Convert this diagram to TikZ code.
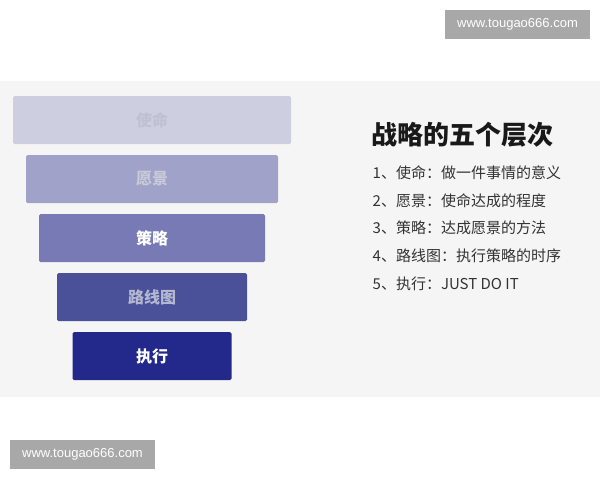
\documentclass[tikz,border=0pt]{standalone}
\usepackage{fontspec}
\usepackage{xcolor}
\usetikzlibrary{positioning}
\setmainfont{Liberation Sans}
\newfontfamily\cjk{Noto Sans CJK SC}

\definecolor{panel}{HTML}{F5F5F5}
\definecolor{wmgray}{HTML}{A8A8A8}
\definecolor{lvA}{HTML}{CDCFE0}
\definecolor{lvB}{HTML}{A0A2C9}
\definecolor{lvC}{HTML}{777AB4}
\definecolor{lvD}{HTML}{4A5199}
\definecolor{lvE}{HTML}{23298A}
\definecolor{txtA}{HTML}{BFC1D2}
\definecolor{txtB}{HTML}{C8CAD8}
\definecolor{txtD}{HTML}{B4B7D2}
\definecolor{ink}{HTML}{333333}

\begin{document}
\begin{tikzpicture}[x=1pt, y=-1pt, node distance={59pt},
    level/.style = {rounded corners=1.5pt, minimum height=48pt, inner sep=0pt,
                    font=\cjk\bfseries\fontsize{16}{16}\selectfont},
    item/.style = {anchor=west, inner sep=0pt, text=ink,
                   font=\cjk\fontsize{15}{15}\selectfont},
    wmbox/.style = {fill=wmgray, text=white, minimum width=145pt, minimum height=29.5pt,
                    inner sep=0pt, font=\fontsize{13}{13}\selectfont}]
        \useasboundingbox[fill=white] (0,0) rectangle (600,480);
        \fill[panel] (0,81) rectangle (600,397);

        % funnel
        \node[level, fill=lvA, text=txtA, minimum width=278pt] (1) at (152,120) {使命};
        \node[level, fill=lvB, text=txtB, minimum width=252pt] (2) [below of = 1] {愿景};
        \node[level, fill=lvC, text=white, minimum width=226pt] (3) [below of = 2] {策略};
        \node[level, fill=lvD, text=txtD, minimum width=190pt] (4) [below of = 3] {路线图};
        \node[level, fill=lvE, text=white, minimum width=159pt] (5) [below of = 4] {执行};

        % legend
        \node[anchor=west, inner sep=0pt, text=black!90, font=\cjk\bfseries\fontsize{26}{26}\selectfont] (title) at (371.5,135) {战略的五个层次};
        \node[item] (i1) at (372.5,173) {1、使命：做一件事情的意义};
        \node[item] (i2) at (372.5,200.7) {2、愿景：使命达成的程度};
        \node[item] (i3) at (372.5,228.3) {3、策略：达成愿景的方法};
        \node[item] (i4) at (372.5,256) {4、路线图：执行策略的时序};
        \node[item] (i5) at (372.5,283.5) {5、执行：JUST DO IT};

        \node[wmbox] (wm1) at (517.5,24.7) {www.tougao666.com};
        \node[wmbox] (wm2) at (82.5,454.7) {www.tougao666.com};
    \end{tikzpicture}
\end{document}
